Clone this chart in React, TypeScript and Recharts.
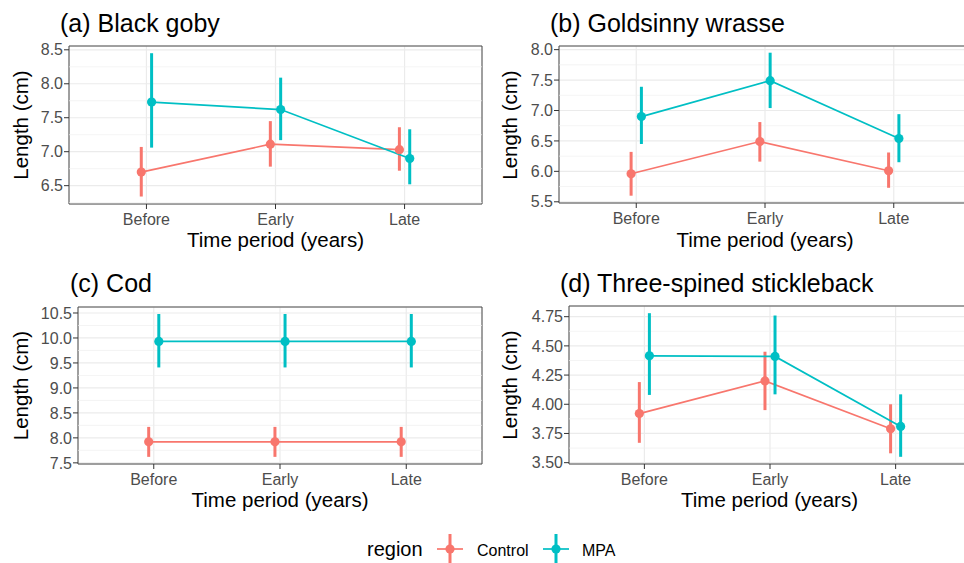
import React from 'react';
import {
  ComposedChart,
  Line,
  XAxis,
  YAxis,
  CartesianGrid,
  ErrorBar,
  ReferenceLine,
  ReferenceArea,
} from 'recharts';

const PERIODS = ['Before', 'Early', 'Late'];

// (a) Black goby
const gobyControlMean = [6.7, 7.11, 7.03];
const gobyControlLow = [6.34, 6.78, 6.72];
const gobyControlHigh = [7.07, 7.45, 7.36];
const gobyMpaMean = [7.73, 7.62, 6.9];
const gobyMpaLow = [7.06, 7.17, 6.52];
const gobyMpaHigh = [8.45, 8.09, 7.33];
const gobyTicks = [6.5, 7.0, 7.5, 8.0, 8.5];

// (b) Goldsinny wrasse
const wrasseControlMean = [5.96, 6.49, 6.01];
const wrasseControlLow = [5.6, 6.16, 5.73];
const wrasseControlHigh = [6.32, 6.81, 6.31];
const wrasseMpaMean = [6.9, 7.49, 6.54];
const wrasseMpaLow = [6.45, 7.04, 6.15];
const wrasseMpaHigh = [7.39, 7.95, 6.94];
const wrasseTicks = [5.5, 6.0, 6.5, 7.0, 7.5, 8.0];

// (c) Cod
const codControlMean = [7.92, 7.92, 7.92];
const codControlLow = [7.62, 7.62, 7.62];
const codControlHigh = [8.22, 8.22, 8.22];
const codMpaMean = [9.93, 9.93, 9.93];
const codMpaLow = [9.41, 9.41, 9.41];
const codMpaHigh = [10.48, 10.48, 10.48];
const codTicks = [7.5, 8.0, 8.5, 9.0, 9.5, 10.0, 10.5];

// (d) Three-spined stickleback
const stickleControlMean = [3.92, 4.2, 3.79];
const stickleControlLow = [3.67, 3.95, 3.58];
const stickleControlHigh = [4.19, 4.45, 4.0];
const stickleMpaMean = [4.415, 4.41, 3.81];
const stickleMpaLow = [4.08, 4.085, 3.55];
const stickleMpaHigh = [4.78, 4.76, 4.085];
const stickleTicks = [3.5, 3.75, 4.0, 4.25, 4.5, 4.75];

const CONTROL_COLOR = '#F8766D';
const MPA_COLOR = '#00BFC4';
const DODGE = 0.04;
const FONT = '"Liberation Sans", Arial, Helvetica, sans-serif';

type Pt = { x: number; y: number; err: [number, number] };

function buildSeries(mean: number[], low: number[], high: number[], offset: number): Pt[] {
  return PERIODS.map((_, i) => ({
    x: i + offset,
    y: mean[i],
    err: [mean[i] - low[i], high[i] - mean[i]] as [number, number],
  }));
}

function minorBreaks(ticks: number[], domain: [number, number]): number[] {
  const out: number[] = [];
  const step = ticks[1] - ticks[0];
  const cands = [ticks[0] - step / 2, ...ticks.map((t) => t + step / 2)];
  cands.forEach((v) => {
    if (v > domain[0] && v < domain[1]) out.push(v);
  });
  return out;
}

type PanelProps = {
  left: number;
  top: number;
  width: number;
  height: number;
  yAxisWidth: number;
  marginTop: number;
  marginRight: number;
  xAxisHeight: number;
  domain: [number, number];
  ticks: number[];
  decimals: number;
  control: Pt[];
  mpa: Pt[];
};

function Panel(p: PanelProps) {
  const minor = minorBreaks(p.ticks, p.domain);
  return (
    <div style={{ position: 'absolute', left: p.left, top: p.top, width: p.width, height: p.height }}>
      <ComposedChart
        width={p.width}
        height={p.height}
        margin={{ top: p.marginTop, right: p.marginRight, bottom: 0, left: 0 }}
      >
        <CartesianGrid stroke="#EBEBEB" strokeWidth={1.2} />
        {minor.map((v) => (
          <ReferenceLine key={'m' + v} y={v} stroke="#EFEFEF" strokeWidth={0.7} />
        ))}
        <XAxis
          type="number"
          dataKey="x"
          domain={[-0.6, 2.6]}
          ticks={[0, 1, 2]}
          interval={0}
          allowDataOverflow
          tickFormatter={(v: number) => PERIODS[Math.round(v)]}
          height={p.xAxisHeight}
          axisLine={false}
          tickLine={{ stroke: '#333333' }}
          tickSize={5}
          tickMargin={5}
          tick={{ fill: '#4D4D4D', fontSize: 16, fontFamily: FONT }}
        />
        <YAxis
          type="number"
          domain={p.domain}
          ticks={p.ticks}
          interval={0}
          allowDataOverflow
          tickFormatter={(v: number) => v.toFixed(p.decimals)}
          width={p.yAxisWidth}
          axisLine={false}
          tickLine={{ stroke: '#333333' }}
          tickSize={5}
          tickMargin={1}
          tick={{ fill: '#4D4D4D', fontSize: 16, fontFamily: FONT }}
        />
        <ReferenceArea
          x1={-0.6}
          x2={2.6}
          y1={p.domain[0]}
          y2={p.domain[1]}
          fill="none"
          fillOpacity={0}
          stroke="#4A4A4A"
          strokeWidth={1}
          ifOverflow="visible"
        />
        <Line
          data={p.control}
          dataKey="y"
          type="linear"
          stroke={CONTROL_COLOR}
          strokeWidth={1.7}
          dot={{ r: 4.6, fill: CONTROL_COLOR, stroke: CONTROL_COLOR, strokeWidth: 0 }}
          activeDot={false}
          isAnimationActive={false}
        >
          <ErrorBar dataKey="err" width={0} strokeWidth={3} stroke={CONTROL_COLOR} direction="y" />
        </Line>
        <Line
          data={p.mpa}
          dataKey="y"
          type="linear"
          stroke={MPA_COLOR}
          strokeWidth={1.7}
          dot={{ r: 4.6, fill: MPA_COLOR, stroke: MPA_COLOR, strokeWidth: 0 }}
          activeDot={false}
          isAnimationActive={false}
        >
          <ErrorBar dataKey="err" width={0} strokeWidth={3} stroke={MPA_COLOR} direction="y" />
        </Line>
      </ComposedChart>
    </div>
  );
}

function Overlay() {
  const title = { fontFamily: FONT, fontSize: 25, fill: '#000000' };
  const axisTitle = { fontFamily: FONT, fontSize: 20.5, fill: '#000000' };
  return (
    <svg
      width={964}
      height={563}
      style={{ position: 'absolute', left: 0, top: 0, pointerEvents: 'none' }}
    >
      <text x={60} y={32} style={title}>(a) Black goby</text>
      <text x={550} y={32} style={title}>(b) Goldsinny wrasse</text>
      <text x={70} y={292} style={title}>(c) Cod</text>
      <text x={560} y={292} style={title}>(d) Three-spined stickleback</text>

      <text x={275.5} y={246.5} textAnchor="middle" style={axisTitle}>Time period (years)</text>
      <text x={765} y={246.5} textAnchor="middle" style={axisTitle}>Time period (years)</text>
      <text x={280} y={506.5} textAnchor="middle" style={axisTitle}>Time period (years)</text>
      <text x={769.5} y={506.5} textAnchor="middle" style={axisTitle}>Time period (years)</text>

      <text transform="translate(27.5,125) rotate(-90)" textAnchor="middle" style={axisTitle}>Length (cm)</text>
      <text transform="translate(516.5,125) rotate(-90)" textAnchor="middle" style={axisTitle}>Length (cm)</text>
      <text transform="translate(27.5,385.5) rotate(-90)" textAnchor="middle" style={axisTitle}>Length (cm)</text>
      <text transform="translate(517,385) rotate(-90)" textAnchor="middle" style={axisTitle}>Length (cm)</text>

      <text x={367} y={556} style={{ fontFamily: FONT, fontSize: 20, fill: '#000000' }}>region</text>
      <g>
        <line x1={437} x2={463} y1={549} y2={549} stroke={CONTROL_COLOR} strokeWidth={1.7} />
        <line x1={450} x2={450} y1={534} y2={564} stroke={CONTROL_COLOR} strokeWidth={3} />
        <circle cx={450} cy={549} r={4.6} fill={CONTROL_COLOR} />
        <text x={477} y={555.5} style={{ fontFamily: FONT, fontSize: 16, fill: '#000000' }}>Control</text>
      </g>
      <g>
        <line x1={543} x2={569} y1={549} y2={549} stroke={MPA_COLOR} strokeWidth={1.7} />
        <line x1={556} x2={556} y1={534} y2={564} stroke={MPA_COLOR} strokeWidth={3} />
        <circle cx={556} cy={549} r={4.6} fill={MPA_COLOR} />
        <text x={582} y={555.5} style={{ fontFamily: FONT, fontSize: 16, fill: '#000000' }}>MPA</text>
      </g>
    </svg>
  );
}

export default function App() {
  return (
    <div
      style={{
        position: 'absolute',
        left: 0,
        top: 0,
        width: 964,
        height: 563,
        overflow: 'hidden',
        background: '#ffffff',
        fontFamily: FONT,
      }}
    >
      <Panel
        left={0}
        top={0}
        width={486}
        height={260}
        yAxisWidth={69}
        marginTop={46}
        marginRight={4}
        xAxisHeight={56}
        domain={[6.23, 8.556]}
        ticks={gobyTicks}
        decimals={1}
        control={buildSeries(gobyControlMean, gobyControlLow, gobyControlHigh, -DODGE)}
        mpa={buildSeries(gobyMpaMean, gobyMpaLow, gobyMpaHigh, DODGE)}
      />
      <Panel
        left={486}
        top={0}
        width={489}
        height={260}
        yAxisWidth={73}
        marginTop={46}
        marginRight={4}
        xAxisHeight={57}
        domain={[5.48, 8.06]}
        ticks={wrasseTicks}
        decimals={1}
        control={buildSeries(wrasseControlMean, wrasseControlLow, wrasseControlHigh, -DODGE)}
        mpa={buildSeries(wrasseMpaMean, wrasseMpaLow, wrasseMpaHigh, DODGE)}
      />
      <Panel
        left={0}
        top={260}
        width={486}
        height={260}
        yAxisWidth={78}
        marginTop={47}
        marginRight={4}
        xAxisHeight={56}
        domain={[7.477, 10.62]}
        ticks={codTicks}
        decimals={1}
        control={buildSeries(codControlMean, codControlLow, codControlHigh, -DODGE)}
        mpa={buildSeries(codMpaMean, codMpaLow, codMpaHigh, DODGE)}
      />
      <Panel
        left={486}
        top={260}
        width={489}
        height={260}
        yAxisWidth={83}
        marginTop={46}
        marginRight={4}
        xAxisHeight={56}
        domain={[3.4885, 4.8415]}
        ticks={stickleTicks}
        decimals={2}
        control={buildSeries(stickleControlMean, stickleControlLow, stickleControlHigh, -DODGE)}
        mpa={buildSeries(stickleMpaMean, stickleMpaLow, stickleMpaHigh, DODGE)}
      />
      <Overlay />
    </div>
  );
}
